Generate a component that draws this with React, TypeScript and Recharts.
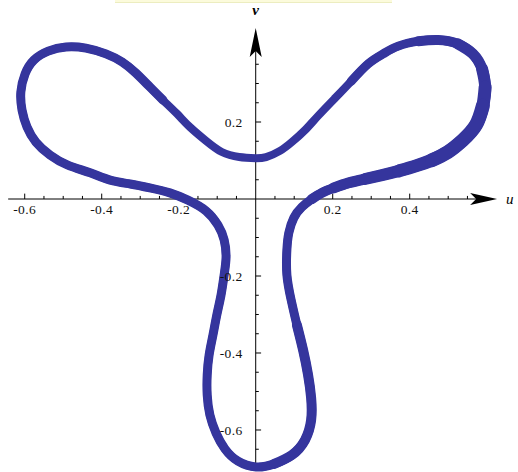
import {
  ReferenceDot,
  ReferenceLine,
  Scatter,
  ScatterChart,
  XAxis,
  YAxis,
} from "recharts";

// closed curve, starting at the top centre and going clockwise
const curveU = [
  0.001, 0.027, 0.063, 0.094, 0.128, 0.162, 0.206, 0.248, 0.292, 0.331,
  0.37, 0.422, 0.474, 0.525, 0.564, 0.588, 0.596, 0.59, 0.572, 0.538,
  0.499, 0.458, 0.416, 0.372, 0.328, 0.284, 0.242, 0.203, 0.172, 0.146,
  0.12, 0.099, 0.086, 0.081, 0.081, 0.092, 0.107, 0.123, 0.136, 0.144,
  0.144, 0.128, 0.094, 0.048, 0.001, -0.046, -0.08, -0.103, -0.119, -0.126,
  -0.126, -0.121, -0.111, -0.101, -0.09, -0.082, -0.077, -0.082, -0.098, -0.129,
  -0.176, -0.223, -0.275, -0.326, -0.378, -0.43, -0.488, -0.534, -0.571, -0.594,
  -0.607, -0.61, -0.599, -0.576, -0.539, -0.493, -0.441, -0.389, -0.347, -0.311,
  -0.275, -0.241, -0.204, -0.171, -0.129, -0.088, -0.043, 0.001,
];
const curveV = [
  0.106, 0.109, 0.125, 0.148, 0.179, 0.216, 0.262, 0.306, 0.351, 0.377,
  0.397, 0.41, 0.413, 0.403, 0.377, 0.338, 0.291, 0.242, 0.192, 0.153,
  0.122, 0.101, 0.086, 0.073, 0.062, 0.052, 0.042, 0.029, 0.016, 0,
  -0.021, -0.049, -0.088, -0.132, -0.197, -0.262, -0.327, -0.392, -0.457, -0.517,
  -0.574, -0.626, -0.665, -0.688, -0.696, -0.681, -0.649, -0.608, -0.561, -0.509,
  -0.457, -0.405, -0.353, -0.301, -0.249, -0.197, -0.151, -0.106, -0.068, -0.031,
  -0.003, 0.016, 0.029, 0.039, 0.049, 0.068, 0.088, 0.114, 0.148, 0.187,
  0.231, 0.278, 0.325, 0.361, 0.384, 0.395, 0.392, 0.377, 0.356, 0.327,
  0.291, 0.257, 0.221, 0.187, 0.151, 0.122, 0.109, 0.106,
];

const xMajorTicks = [-0.6, -0.4, -0.2, 0.2, 0.4];
const xTickLabels = ["-0.6", "-0.4", "-0.2", "0.2", "0.4"];
const xMinorTicks = [
  -0.55, -0.5, -0.45, -0.35, -0.3, -0.25, -0.15, -0.1, -0.05,
  0.05, 0.1, 0.15, 0.25, 0.3, 0.35, 0.45, 0.5, 0.55,
];
const yMajorTicks = [0.2, -0.2, -0.4, -0.6];
const yTickLabels = ["0.2", "-0.2", "-0.4", "-0.6"];
const yMinorTicks = [
  0.35, 0.3, 0.25, 0.15, 0.1, 0.05, -0.05, -0.1, -0.15,
  -0.25, -0.3, -0.35, -0.45, -0.5, -0.55, -0.65, -0.7,
];

const curveData = curveU.map((u, i) => ({ u, v: curveV[i] }));

// the band is not even: thin at the top centre, widest under the right loop.
// [first point, end point, stroke width] laid over the base stroke
const bandParts: [number, number, number][] = [
  [7, 82, 9],
  [11, 30, 10],
  [13, 28, 11],
  [15, 26, 12],
  [16, 24, 13],
  [17, 22, 14],
  [36, 44, 10],
];

const BLUE = "#35359d";
const FONT = "'Liberation Serif', 'Times New Roman', serif";
const MAJOR = 0.014;
const MINOR = 0.008;

const noDot = () => <g />;

function ArrowRight(props: any) {
  const { x1, y1, x2, y2 } = props;
  return (
    <path
      d={`M${x2},${y2} L${x1},${y1 - 6} L${x1 + 6},${y1} L${x1},${y1 + 6} Z`}
      fill="#000"
    />
  );
}

function ArrowUp(props: any) {
  const { x1, y1, x2, y2 } = props;
  return (
    <path
      d={`M${x2},${y2} L${x1 - 6},${y1} L${x1},${y1 - 6} L${x1 + 6},${y1} Z`}
      fill="#000"
    />
  );
}

export default function App() {
  return (
    <div
      style={{
        position: "absolute",
        left: 0,
        top: 0,
        width: 518,
        height: 472,
        background: "#fff",
      }}
    >
      <div
        style={{
          position: "absolute",
          left: 115,
          top: 0,
          width: 277,
          height: 2,
          background: "#fcfbdc",
          borderBottom: "1px solid #ecedc0",
        }}
      />
      <ScatterChart
        width={518}
        height={472}
        margin={{ top: 0, right: 0, bottom: 0, left: 0 }}
      >
        <XAxis type="number" dataKey="u" domain={[-0.6642, 0.6813]} hide allowDataOverflow />
        <YAxis type="number" dataKey="v" domain={[-0.7091, 0.5169]} hide allowDataOverflow />

        {/* axes through the origin */}
        <ReferenceLine segment={[{ x: -0.643, y: 0 }, { x: 0.6, y: 0 }]} stroke="#000" strokeWidth={1} />
        <ReferenceLine segment={[{ x: 0, y: -0.705 }, { x: 0, y: 0.4 }]} stroke="#000" strokeWidth={1} />
        <ReferenceLine segment={[{ x: 0.557, y: 0 }, { x: 0.627, y: 0 }]} shape={ArrowRight} />
        <ReferenceLine segment={[{ x: 0, y: 0.369 }, { x: 0, y: 0.444 }]} shape={ArrowUp} />

        {xMinorTicks.map((t) => (
          <ReferenceLine key={`xm${t}`} segment={[{ x: t, y: 0 }, { x: t, y: MINOR }]} stroke="#000" />
        ))}
        {xMajorTicks.map((t) => (
          <ReferenceLine key={`xM${t}`} segment={[{ x: t, y: 0 }, { x: t, y: MAJOR }]} stroke="#000" />
        ))}
        {yMinorTicks.map((t) => (
          <ReferenceLine key={`ym${t}`} segment={[{ x: 0, y: t }, { x: MINOR, y: t }]} stroke="#000" />
        ))}
        {yMajorTicks.map((t) => (
          <ReferenceLine key={`yM${t}`} segment={[{ x: 0, y: t }, { x: MAJOR, y: t }]} stroke="#000" />
        ))}

        {xMajorTicks.map((t, i) => (
          <ReferenceDot
            key={`xl${t}`}
            x={t}
            y={0}
            r={0}
            fill="none"
            stroke="none"
            label={{ value: xTickLabels[i], position: "bottom", offset: 5, fontSize: 13.5, letterSpacing: 0.4, fontFamily: FONT, fill: "#111" }}
          />
        ))}
        {yMajorTicks.map((t, i) => (
          <ReferenceDot
            key={`yl${t}`}
            x={0}
            y={t}
            r={0}
            fill="none"
            stroke="none"
            label={{ value: yTickLabels[i], position: "left", offset: 13, fontSize: 13.5, letterSpacing: 0.4, fontFamily: FONT, fill: "#111" }}
          />
        ))}
        <ReferenceDot
          x={0.627}
          y={0}
          r={0}
          fill="none"
          stroke="none"
          label={{ value: "u", position: "right", offset: 9, fontSize: 15, fontStyle: "italic", fontFamily: FONT, fill: "#000" }}
        />
        <ReferenceDot
          x={0}
          y={0.444}
          r={0}
          fill="none"
          stroke="none"
          label={{ value: "v", position: "top", offset: 13, fontSize: 15, fontStyle: "italic", fontWeight: "bold", fontFamily: FONT, fill: "#000" }}
        />

        <Scatter
          data={curveData}
          shape={noDot}
          line={{ stroke: BLUE, strokeWidth: 8, strokeLinejoin: "round", strokeLinecap: "round" }}
          lineJointType="natural"
          isAnimationActive={false}
        />
        {bandParts.map(([from, to, w]) => (
          <Scatter
            key={`band${from}-${to}`}
            data={curveData.slice(from, to)}
            shape={noDot}
            line={{ stroke: BLUE, strokeWidth: w, strokeLinejoin: "round", strokeLinecap: "round" }}
            lineJointType="natural"
            isAnimationActive={false}
          />
        ))}
      </ScatterChart>
    </div>
  );
}
